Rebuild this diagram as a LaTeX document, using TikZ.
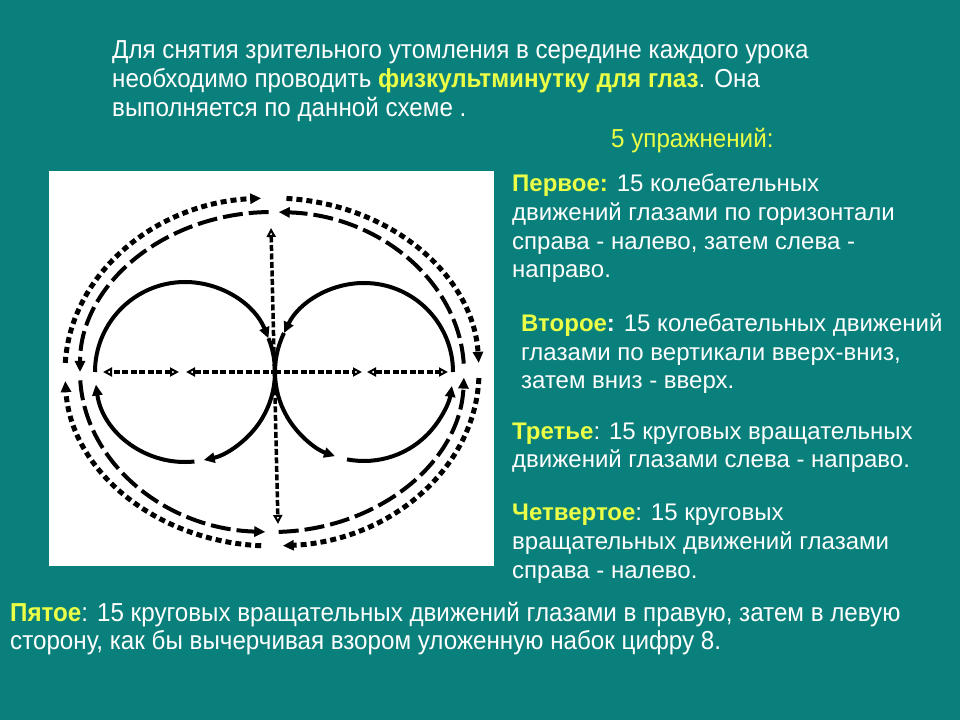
\documentclass[tikz,border=0pt]{standalone}
\usepackage{fontspec}
\setmainfont{Liberation Sans}
\newfontfamily\narrowfont[FakeStretch=0.93]{Liberation Sans}
\usetikzlibrary{arrows.meta}
\definecolor{slideteal}{RGB}{10,128,124}
\definecolor{hlyellow}{RGB}{235,255,70}
\newcommand{\yel}[1]{\textcolor{hlyellow}{\textbf{#1}}}

\begin{document}
\begin{tikzpicture}[
    x=1pt, y=1pt,
    txt/.style={anchor=base west, inner sep=0pt, text=white, font=\fontsize{24}{28}\selectfont},
    narrow/.style={anchor=base west, inner sep=0pt, text=white, font=\narrowfont\fontsize{26}{29}\selectfont},
    htip/.tip={Triangle[open, length=9pt, width=9pt, line width=2pt]},
    stip/.tip={Triangle[length=11pt, width=10pt]},
    solidarc/.style={line width=4pt, -{stip}},
    longdash/.style={line width=4pt, dash pattern=on 20pt off 6pt, -{stip}},
    shortdash/.style={line width=5pt, dash pattern=on 6pt off 4pt, -{stip}},
    hatch/.style={line width=3.5pt, dash pattern=on 6pt off 2.5pt}
]

% Slide background and picture frame
\fill[slideteal] (0,0) rectangle (960,720);
\fill[white] (49,154) rectangle (494,549);

% Centres
\coordinate (ec) at (272,348);
\coordinate (lc) at (185,348);
\coordinate (rc) at (364,348);

% Outer dotted ellipse (clockwise)
\foreach \a/\b in {86/3, -2/-87, -93/-177, 177/93} {
    \draw[shortdash] (ec) ++(\a:207 and 174) arc[start angle=\a, end angle=\b, x radius=207, y radius=174];
}

% Inner dashed ellipse (counter-clockwise)
\foreach \a/\b in {3/88, 91/180, 183/268, 272/358} {
    \draw[longdash] (ec) ++(\a:192 and 160) arc[start angle=\a, end angle=\b, x radius=192, y radius=160];
}

% Figure eight
\foreach \a/\b in {180/22, 22/-78, -84/-172} {
    \draw[solidarc] (lc) ++(\a:90) arc[start angle=\a, end angle=\b, radius=90];
}
\foreach \a/\b in {0/154, 154/251, 259/351} {
    \draw[solidarc] (rc) ++(\a:89) arc[start angle=\a, end angle=\b, radius=89];
}

% Horizontal and vertical lines
\coordinate (hl) at (103,348);
\coordinate (hb1) at (179,348);
\coordinate (hb2) at (186,348);
\coordinate (hc) at (275,348);
\coordinate (hb3) at (362,348);
\coordinate (hb4) at (367,348);
\coordinate (hr) at (448,348);
\coordinate (vt) at (271,492);
\coordinate (vb) at (278,196);

\draw[hatch, {htip}-{htip}] (hb1) -- (hl);
\draw[hatch, {htip}-] (hb2) -- (hc);
\draw[hatch, -{htip}] (hc) -- (hb3);
\draw[hatch, {htip}-{htip}] (hb4) -- (hr);
\draw[hatch, {htip}-{htip}] (vt) -- (vb);

% Intro text
\node[narrow] (intro1) at (112,661) {Для снятия зрительного утомления в середине каждого урока};
\node[narrow] (intro2) at (112,632) {необходимо проводить \textcolor{hlyellow}{\bfseries физкультминутку для глаз}. Она};
\node[narrow] (intro3) at (112,603) {выполняется по данной схеме .};
\node[narrow, text=hlyellow] (count) at (611,572) {5 упражнений:};

% Exercises
\node[txt] (ex1a) at (512,528) {\yel{Первое:} 15 колебательных};
\node[txt] (ex1b) at (512,499) {движений глазами по горизонтали};
\node[txt] (ex1c) at (512,470) {справа - налево, затем слева -};
\node[txt] (ex1d) at (512,442) {направо.};

\node[txt] (ex2a) at (521,388) {\yel{Второе}\textbf{:} 15 колебательных движений};
\node[txt] (ex2b) at (521,359) {глазами по вертикали вверх-вниз,};
\node[txt] (ex2c) at (521,331) {затем вниз - вверх.};

\node[txt] (ex3a) at (512,280) {\yel{Третье}: 15 круговых вращательных};
\node[txt] (ex3b) at (512,252) {движений глазами слева - направо.};

\node[txt] (ex4a) at (512,199) {\yel{Четвертое}: 15 круговых};
\node[txt] (ex4b) at (512,170) {вращательных движений глазами};
\node[txt] (ex4c) at (512,142) {справа - налево.};

\node[narrow] (ex5a) at (10,99) {\yel{Пятое}: 15 круговых вращательных движений глазами в правую, затем в левую};
\node[narrow] (ex5b) at (10,71) {сторону, как бы вычерчивая взором уложенную набок цифру 8.};

\end{tikzpicture}
\end{document}
